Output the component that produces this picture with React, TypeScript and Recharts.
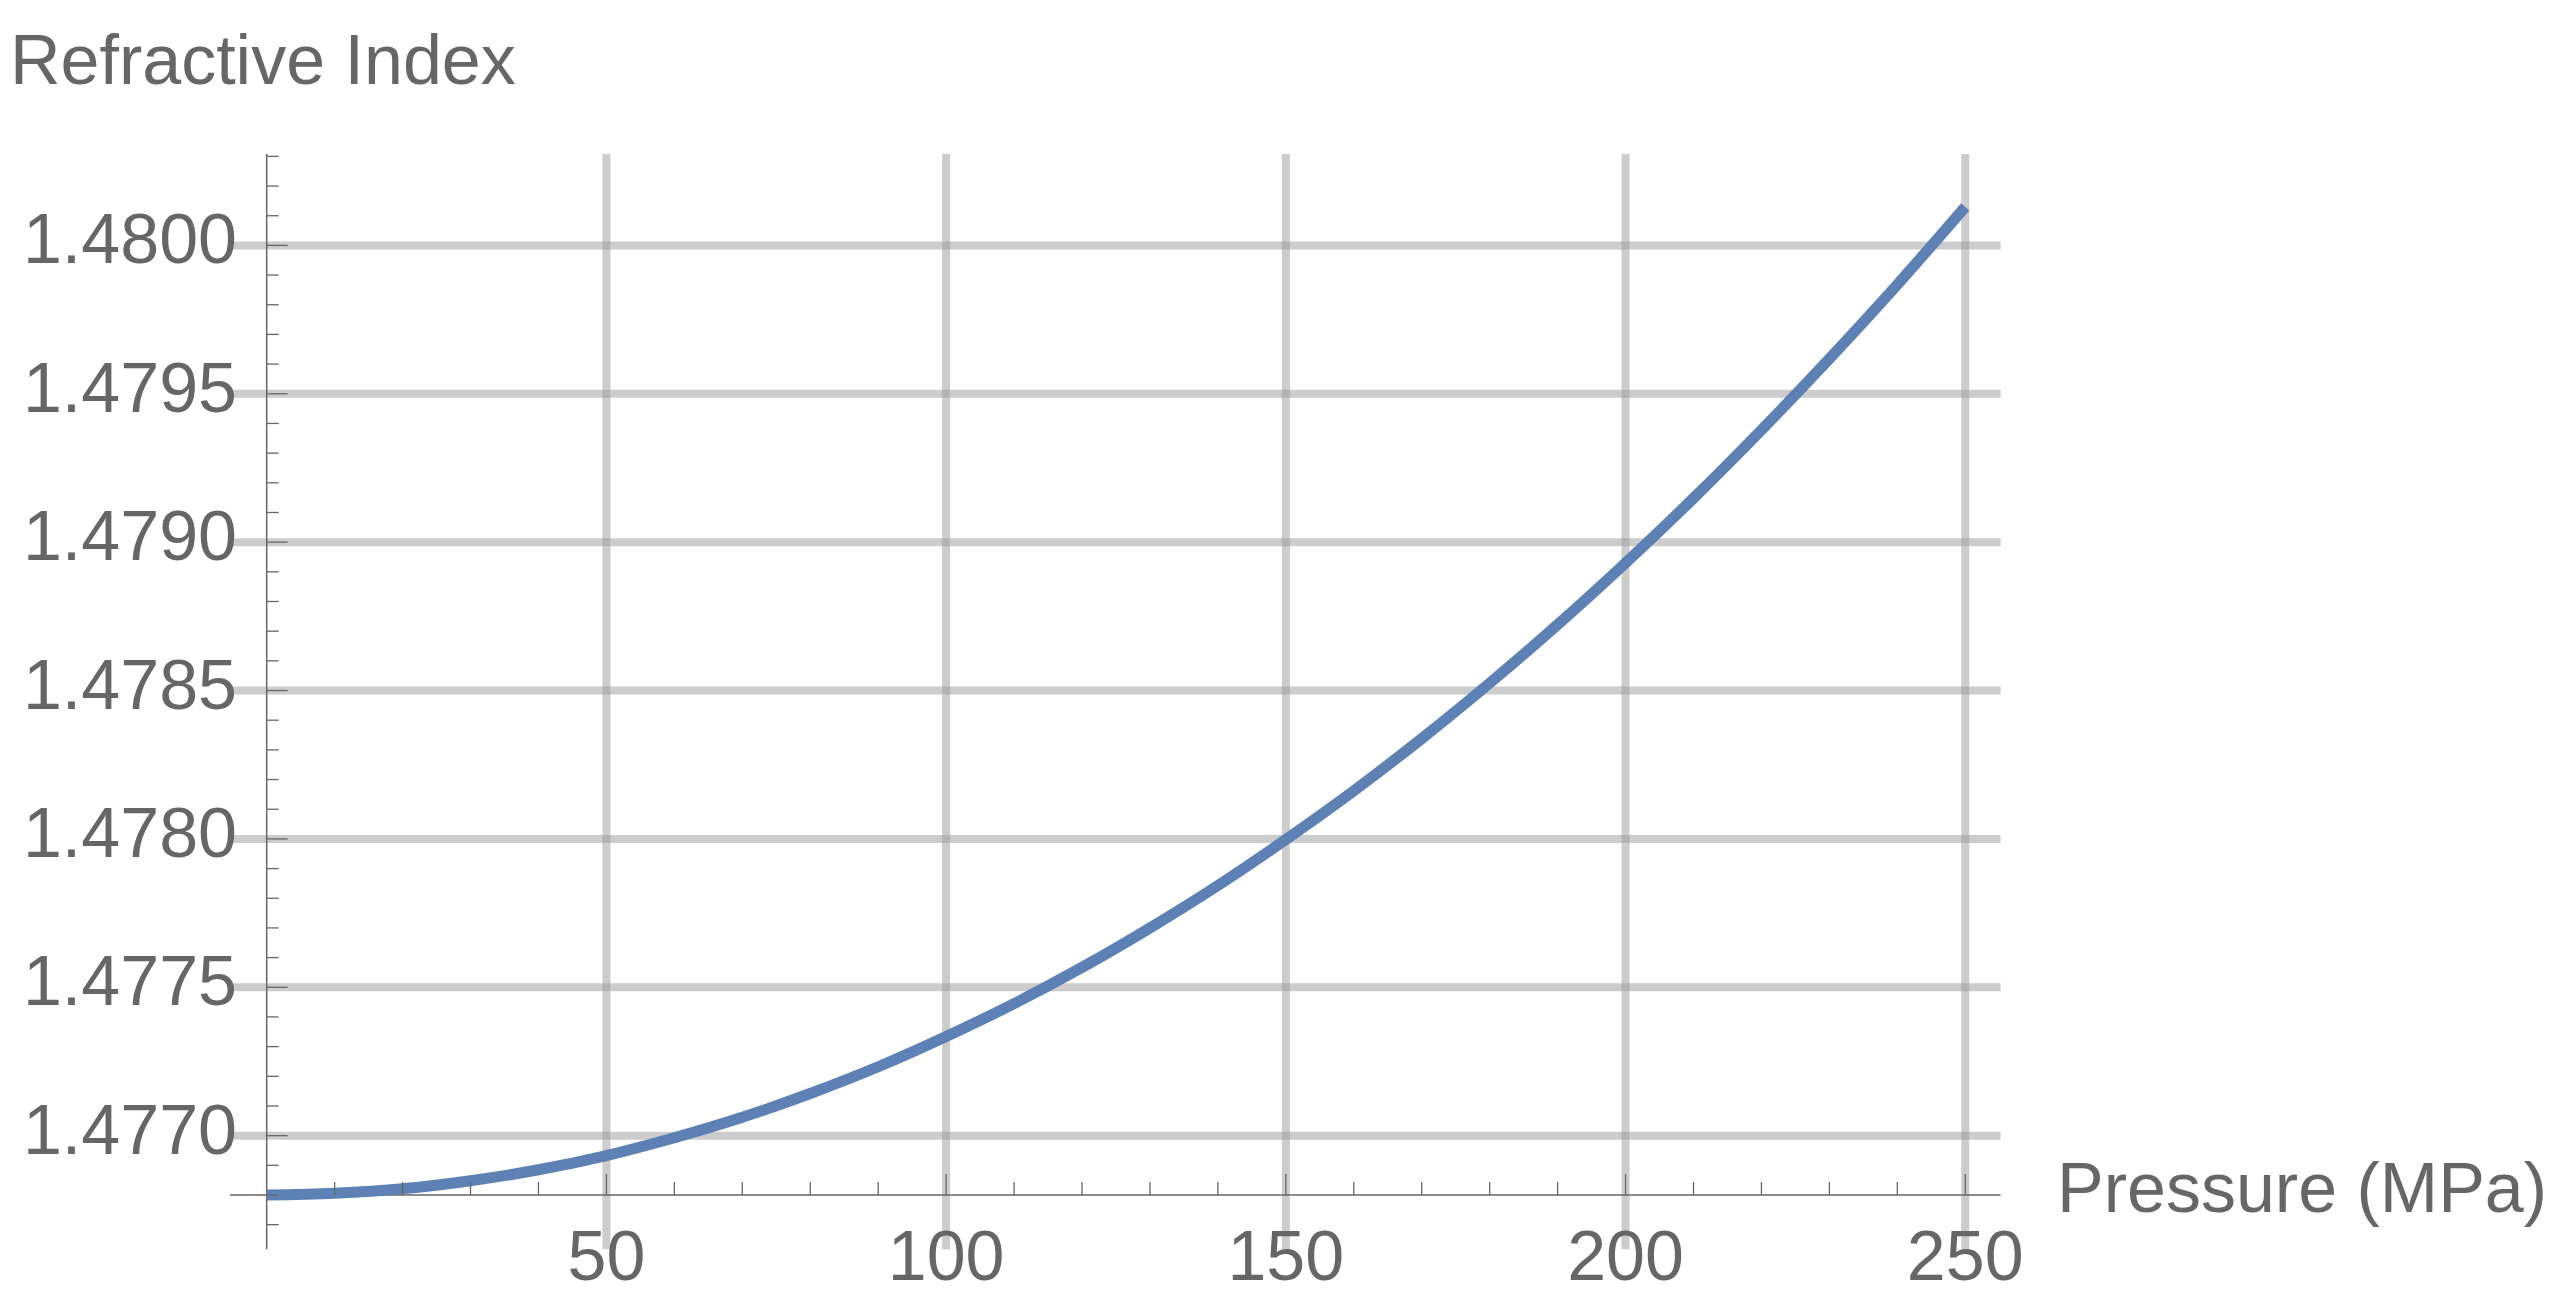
import React from "react";
import {
  LineChart,
  Line,
  XAxis,
  YAxis,
  CartesianGrid,
  ReferenceLine,
  ReferenceDot,
} from "recharts";

// Pressure (MPa) vs refractive index
const pressure = [
  0, 10, 20, 30, 40, 50, 60, 70, 80, 90, 100, 110, 120, 130, 140, 150, 160,
  170, 180, 190, 200, 210, 220, 230, 240, 250,
];
const refractiveIndex = [
  1.4768, 1.476806, 1.476821, 1.476848, 1.476885, 1.476933, 1.476993,
  1.477062, 1.477142, 1.477232, 1.477334, 1.477445, 1.477567, 1.4777,
  1.477843, 1.477998, 1.478162, 1.478338, 1.478525, 1.478722, 1.47893,
  1.479148, 1.479378, 1.479618, 1.479868, 1.48013,
];

// Axis ticks
const xLabelTicks = [50, 100, 150, 200, 250];
const xTickMarks = [
  10, 20, 30, 40, 50, 60, 70, 80, 90, 100, 110, 120, 130, 140, 150, 160, 170,
  180, 190, 200, 210, 220, 230, 240, 250,
];
const yLabelTicks = [1.477, 1.4775, 1.478, 1.4785, 1.479, 1.4795, 1.48];
const yTickMarks = [
  1.4767, 1.4768, 1.4769, 1.477, 1.4771, 1.4772, 1.4773, 1.4774, 1.4775,
  1.4776, 1.4777, 1.4778, 1.4779, 1.478, 1.4781, 1.4782, 1.4783, 1.4784,
  1.4785, 1.4786, 1.4787, 1.4788, 1.4789, 1.479, 1.4791, 1.4792, 1.4793,
  1.4794, 1.4795, 1.4796, 1.4797, 1.4798, 1.4799, 1.48, 1.4801, 1.4802,
  1.4803,
];

const data = pressure.map((p, i) => ({ p, n: refractiveIndex[i] }));

const GRAY = "#666666";
const FONT = "'Liberation Sans', Arial, sans-serif";
const axisY = refractiveIndex[0];

const isMajor = (v: number, list: number[]) =>
  list.some((m) => Math.abs(m - v) < 1e-9);

const XTick = ({ x, y, payload }: any) => (
  <text
    x={x}
    y={y}
    dy={31}
    textAnchor="middle"
    fill={GRAY}
    fontSize={70}
    fontFamily={FONT}
  >
    {payload.value}
  </text>
);

const YTick = ({ x, y, payload }: any) => (
  <text
    x={x}
    y={y}
    dx={7}
    dy={18}
    textAnchor="end"
    fill={GRAY}
    fontSize={70}
    fontFamily={FONT}
  >
    {Number(payload.value).toFixed(4)}
  </text>
);

const App = () => {
  return (
    <div
      style={{
        position: "absolute",
        left: 0,
        top: 0,
        width: 2571,
        height: 1314,
        background: "#fff",
      }}
    >
      <LineChart
        width={2571}
        height={1314}
        data={data}
        margin={{ top: 154, right: 570.4, bottom: 34.7, left: 30 }}
      >
        <CartesianGrid
          horizontalValues={yLabelTicks}
          verticalValues={xLabelTicks}
          stroke="#999999"
          strokeOpacity={0.5}
          strokeWidth={8}
        />
        <XAxis
          type="number"
          dataKey="p"
          domain={[-5.4, 255.2]}
          ticks={xLabelTicks}
          allowDataOverflow
          axisLine={false}
          tickLine={false}
          tickSize={0}
          tickMargin={0}
          height={30}
          tick={<XTick />}
        />
        <YAxis
          type="number"
          domain={[1.476617, 1.480308]}
          ticks={yLabelTicks}
          allowDataOverflow
          axisLine={false}
          tickLine={false}
          tickSize={0}
          tickMargin={0}
          width={200}
          tick={<YTick />}
        />
        <ReferenceLine x={0} stroke={GRAY} strokeWidth={1.5} />
        <ReferenceLine y={axisY} stroke={GRAY} strokeWidth={1.5} />
        {xTickMarks.map((t) => (
          <ReferenceDot
            key={"xt" + t}
            x={t}
            y={axisY}
            shape={(props: any) => (
              <line
                x1={props.cx}
                x2={props.cx}
                y1={props.cy}
                y2={props.cy - (isMajor(t, xLabelTicks) ? 21 : 13)}
                stroke={GRAY}
                strokeWidth={1.3}
              />
            )}
          />
        ))}
        {yTickMarks.map((t) => (
          <ReferenceDot
            key={"yt" + t}
            x={0}
            y={t}
            shape={(props: any) => (
              <line
                x1={props.cx}
                x2={props.cx + (isMajor(t, yLabelTicks) ? 21 : 12)}
                y1={props.cy}
                y2={props.cy}
                stroke={GRAY}
                strokeWidth={1.3}
              />
            )}
          />
        ))}
        <Line
          type="monotone"
          dataKey="n"
          stroke="#5E81B5"
          strokeWidth={11}
          dot={false}
          activeDot={false}
          isAnimationActive={false}
        />
      </LineChart>
      <svg
        width={2571}
        height={1314}
        style={{ position: "absolute", left: 0, top: 0, pointerEvents: "none" }}
      >
        <text x={10} y={84} fill={GRAY} fontSize={70} fontFamily={FONT}>
          Refractive Index
        </text>
        <text x={2057} y={1212} fill={GRAY} fontSize={70} fontFamily={FONT}>
          Pressure (MPa)
        </text>
      </svg>
    </div>
  );
};

export default App;
